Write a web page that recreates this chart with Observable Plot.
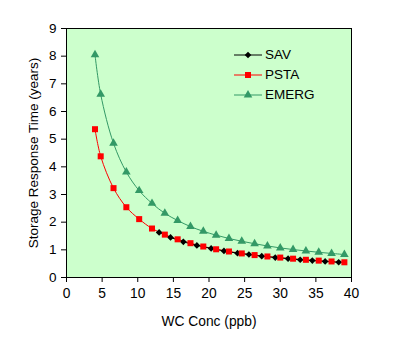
<!DOCTYPE html>
<html><head><meta charset="utf-8">
<script src="https://cdn.jsdelivr.net/npm/d3@7"></script>
<script src="https://cdn.jsdelivr.net/npm/@observablehq/plot@0.6"></script>
<style>
body{margin:0;background:#fff;font-family:"Liberation Sans",Arial,sans-serif;}
#wrap{position:relative;width:408px;height:343px;}
#legend{position:absolute;left:234px;top:45px;font-size:13.5px;line-height:20px;}
#legend div{display:flex;align-items:center;height:20px;}
#legend svg{margin-right:3px;}
</style></head>
<body><div id="wrap"></div>
<script>
const concX = [4, 4.8, 6.6, 8.4, 10.2, 12, 13.8, 15.6, 17.4, 19.2, 21, 22.8, 24.6, 26.4, 28.2, 30, 31.8, 33.6, 35.4, 37.2, 39];
const pstaY = [5.36, 4.38, 3.23, 2.54, 2.11, 1.77, 1.55, 1.38, 1.24, 1.12, 1.02, 0.94, 0.87, 0.81, 0.76, 0.72, 0.68, 0.64, 0.61, 0.58, 0.55];
const emergY = [8.05, 6.62, 4.85, 3.81, 3.14, 2.68, 2.32, 2.06, 1.84, 1.67, 1.53, 1.41, 1.31, 1.22, 1.14, 1.07, 1.01, 0.96, 0.91, 0.87, 0.83];
const savX = [13.0, 14.6, 16.4, 18.3, 20.3, 22.1, 24.0, 25.6, 27.4, 29.3, 31.1, 32.8, 34.5, 36.3, 38.2];
const savY = [1.63, 1.45, 1.29, 1.16, 1.05, 0.96, 0.88, 0.83, 0.77, 0.72, 0.68, 0.64, 0.61, 0.58, 0.55];
const xTicks = [0, 5, 10, 15, 20, 25, 30, 35, 40];
const yTicks = [0, 1, 2, 3, 4, 5, 6, 7, 8, 9];
const seriesNames = ["SAV", "PSTA", "EMERG"];
const seriesColors = ["#000000", "#FF0000", "#339966"];
const seriesSymbols = ["diamond2", "square", "triangle"];

const psta = concX.map((x, i) => ({x, y: pstaY[i]}));
const emerg = concX.map((x, i) => ({x, y: emergY[i]}));
const sav = savX.map((x, i) => ({x, y: savY[i]}));

const chart = Plot.plot({
  width: 408, height: 343,
  marginLeft: 66, marginRight: 57, marginTop: 28, marginBottom: 66,
  style: {fontFamily: '"Liberation Sans", Arial, sans-serif', fontSize: "13px", color: "#000", background: "#fff"},
  x: {domain: [0, 40]},
  y: {domain: [0, 9]},
  marks: [
    Plot.frame({fill: "#CCFFCC", stroke: null}),
    Plot.axisX({ticks: xTicks, tickSize: 5, tickPadding: 6, label: "WC Conc (ppb)", labelArrow: "none", labelAnchor: "center", labelOffset: 48, fontSize: 13.8}),
    Plot.axisY({ticks: yTicks, tickSize: 5, tickPadding: 5, label: "Storage Response Time (years)", labelArrow: "none", labelAnchor: "center", labelOffset: 38, fontSize: 13.5, tickFormat: d3.format("d")}),
    Plot.line(emerg, {x: "x", y: "y", stroke: seriesColors[2], strokeWidth: 1, curve: "catmull-rom"}),
    Plot.dot(emerg, {x: "x", y: "y", symbol: seriesSymbols[2], fill: seriesColors[2], r: 3.2}),
    Plot.line(psta, {x: "x", y: "y", stroke: seriesColors[1], strokeWidth: 1, curve: "catmull-rom"}),
    Plot.line(sav, {x: "x", y: "y", stroke: seriesColors[0], strokeWidth: 1, curve: "catmull-rom"}),
    Plot.dot(sav, {x: "x", y: "y", symbol: seriesSymbols[0], fill: seriesColors[0], r: 3}),
    Plot.dot(psta, {x: "x", y: "y", symbol: seriesSymbols[1], fill: seriesColors[1], r: 3.4}),
    Plot.frame({stroke: "#000", strokeWidth: 1})
  ]
});
const wrap = document.getElementById("wrap");
wrap.appendChild(chart);

const legend = document.createElement("div");
legend.id = "legend";
const sym = {diamond2: d3.symbolDiamond2, square: d3.symbolSquare, triangle: d3.symbolTriangle};
const sizes = {diamond2: 28, square: 36, triangle: 32};
seriesNames.forEach((name, i) => {
  const row = document.createElement("div");
  const path = d3.symbol(sym[seriesSymbols[i]], sizes[seriesSymbols[i]])();
  row.innerHTML = `<svg width="28" height="14"><line x1="0" x2="28" y1="7" y2="7" stroke="${seriesColors[i]}" stroke-width="1"/><path transform="translate(14,7)" d="${path}" fill="${seriesColors[i]}"/></svg><span>${name}</span>`;
  legend.appendChild(row);
});
wrap.appendChild(legend);
</script>
</body></html>
